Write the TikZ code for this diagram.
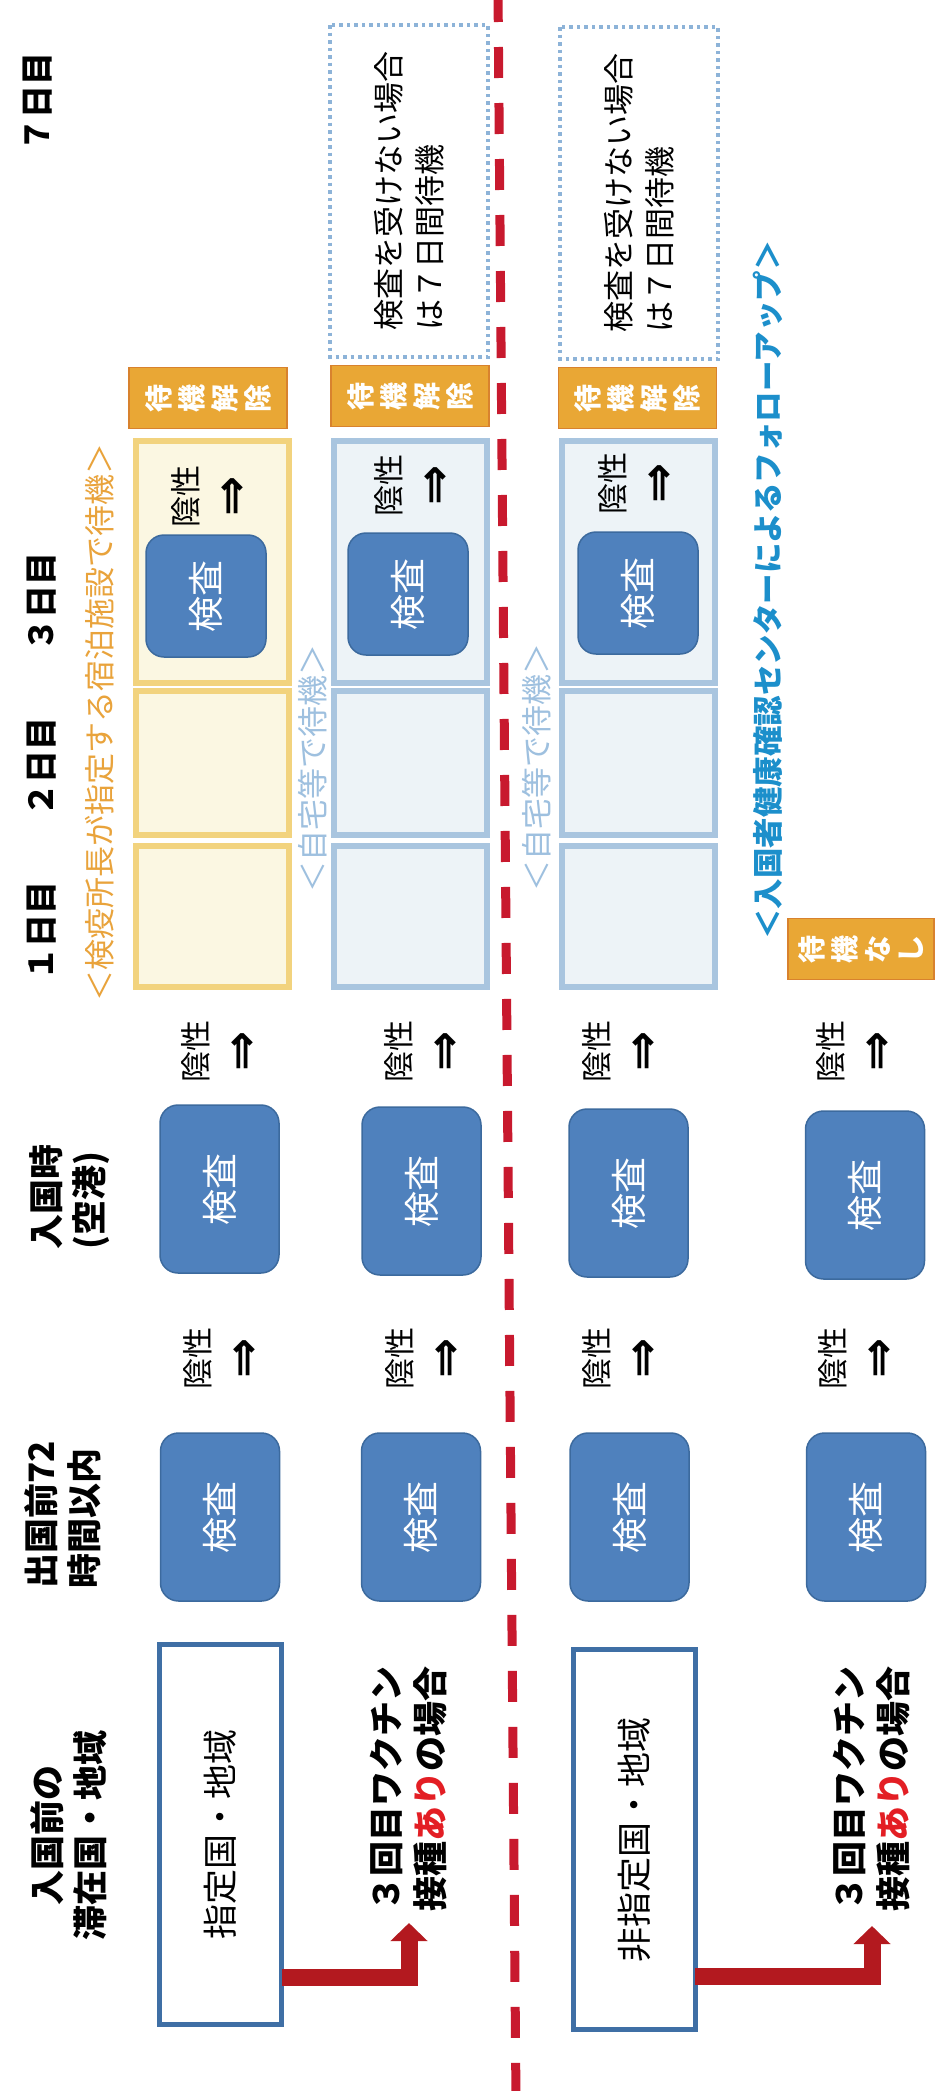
\documentclass[tikz,border=0pt]{standalone}
\usepackage{fontspec}
\setmainfont{Noto Sans CJK JP}
\newfontfamily\symfont{DejaVu Sans}
\usetikzlibrary{arrows.meta}
\definecolor{kblue}{HTML}{4F81BD}
\definecolor{kblueD}{HTML}{3C6A9E}
\definecolor{wblue}{HTML}{3F6FA5}
\definecolor{korange}{HTML}{E9A735}
\definecolor{korangeD}{HTML}{D8822E}
\definecolor{ycellD}{HTML}{F2D37E}
\definecolor{ycellF}{HTML}{FBF7E2}
\definecolor{bcellD}{HTML}{A9C5DF}
\definecolor{bcellF}{HTML}{EDF3F7}
\definecolor{dotblue}{HTML}{8DB3D8}
\definecolor{dashred}{HTML}{C8192E}
\definecolor{arrowred}{HTML}{B3191F}
\definecolor{qorange}{HTML}{E9A33B}
\definecolor{homeblue}{HTML}{9EC0DF}
\definecolor{followblue}{HTML}{1C8FCB}
\definecolor{ariRed}{HTML}{E31E24}
\newcommand\fsz[2]{\fontsize{#1pt}{#2pt}\selectfont}
\newcommand\dblarr{{\symfont\bfseries\fontsize{48pt}{48pt}\selectfont ⇒}}
\begin{document}
\begin{tikzpicture}[x=1pt,y=-1pt,
  every node/.style={inner sep=0pt,outer sep=0pt},
  rot/.style={rotate=90},
  hdr/.style={rot,font=\fsz{35}{43}\bfseries},
  daylbl/.style={rot,font=\fsz{33}{40}\bfseries},
  kensa/.style={rot,draw=kblueD,line width=1.5pt,fill=kblue,rounded corners=18pt,text=white,font=\fsz{36}{40}},
  kbig/.style={kensa,minimum width=168pt,minimum height=119pt},
  ksmall/.style={kensa,minimum width=122pt,minimum height=120pt},
  neg/.style={rot,align=center,font=\fsz{31}{50}},
  release/.style={rot,align=center,fill=korange,draw=korangeD,line width=1.5pt,text=white,font=\fsz{28}{33}\bfseries,minimum width=61pt},
  wbox/.style={rot,draw=wblue,line width=5pt,fill=white,font=\fsz{35}{40},minimum width=380pt,minimum height=122pt},
  dotbox/.style={rot,draw=dotblue,line width=3.5pt,dash pattern=on 3.5pt off 4pt,align=left,font=\fsz{31}{41},minimum width=332pt,minimum height=158pt},
  vacc/.style={rot,align=left,anchor=west,font=\fsz{35}{44}\bfseries},
  ycell/.style={draw=ycellD,fill=ycellF,line width=6pt,minimum width=153pt},
  bcell/.style={draw=bcellD,fill=bcellF,line width=6pt,minimum width=153pt},
  lbl/.style={rot,font=\fsz{31}{36}},
  redarrow/.style={draw=arrowred,line width=17pt,-{Triangle[width=36pt,length=18pt]}},
]
\fill[white] (0,0) rectangle (939,2091);
\path[use as bounding box] (0,0) rectangle (939,2091);

% red dashed divider
\draw[dashred,line width=9pt,dash pattern=on 31pt off 25pt] (498,-9) -- (516,2100);

% day labels
\node[daylbl] (d7) at (38,102) {７日目};
\node[daylbl] (d3) at (42,602) {３日目};
\node[daylbl] (d2) at (42,767) {２日目};
\node[daylbl] (d1) at (42,931) {１日目};

% column headers
\node[hdr,align=left] (hEntry) at (70,1197) {入国時\\(空港)};
\node[hdr,align=left] (hDep) at (63,1515) {出国前72\\時間以内};
\node[hdr,align=center] (hStay) at (69,1835) {入国前の\\滞在国・地域};

% quarantine cells
\node[ycell,minimum height=242pt] (cA3) at (212.5,562) {};
\node[ycell,minimum height=144pt] (cA2) at (212.5,763) {};
\node[ycell,minimum height=141pt] (cA1) at (212.5,916.5) {};
\node[bcell,minimum height=242pt] (cB3) at (410.5,562) {};
\node[bcell,minimum height=144pt] (cB2) at (410.5,763) {};
\node[bcell,minimum height=141pt] (cB1) at (410.5,916.5) {};
\node[bcell,minimum height=242pt] (cC3) at (638.5,562) {};
\node[bcell,minimum height=144pt] (cC2) at (638.5,763) {};
\node[bcell,minimum height=141pt] (cC1) at (638.5,916.5) {};

% labels
\node[lbl,text=qorange] (lQuar) at (100,722) {＜検疫所長が指定する宿泊施設で待機＞};
\node[lbl,text=homeblue] (lHomeB) at (313,768) {＜自宅等で待機＞};
\node[lbl,text=homeblue] (lHomeC) at (537,767) {＜自宅等で待機＞};
\node[rot,font=\fsz{30.5}{36}\bfseries,text=followblue] (lFollow) at (768,590) {＜入国者健康確認センターによるフォローアップ＞};

% release boxes
\node[release,minimum height=158pt] (rA) at (208,398) {待\\機\\解\\除};
\node[release,minimum height=158pt] (rB) at (410,396) {待\\機\\解\\除};
\node[release,minimum height=158pt] (rC) at (637.5,398) {待\\機\\解\\除};
\node[release,minimum height=146pt] (rD) at (861,949) {待\\機\\な\\し};

% dotted boxes
\node[dotbox] (pB) at (409,191) {検査を受けない場合\\は７日間待機};
\node[dotbox] (pC) at (639,193) {検査を受けない場合\\は７日間待機};

% day-3 tests
\node[ksmall] (k3A) at (206,596) {検査};
\node[ksmall] (k3B) at (408,594) {検査};
\node[ksmall] (k3C) at (638,593) {検査};
\node[neg] (n3A) at (209,496) {陰性\\\dblarr};
\node[neg] (n3B) at (412,485) {陰性\\\dblarr};
\node[neg] (n3C) at (636,483) {陰性\\\dblarr};

% negative after entry test
\node[neg] (n2A) at (219,1051) {陰性\\\dblarr};
\node[neg] (n2B) at (422,1051) {陰性\\\dblarr};
\node[neg] (n2C) at (620,1051) {陰性\\\dblarr};
\node[neg] (n2D) at (854,1051) {陰性\\\dblarr};

% entry tests
\node[kbig] (keA) at (219.5,1189) {検査};
\node[kbig] (keB) at (421.5,1191) {検査};
\node[kbig] (keC) at (628.5,1193) {検査};
\node[kbig] (keD) at (865,1195) {検査};

% negative after departure test
\node[neg] (n1A) at (221,1358) {陰性\\\dblarr};
\node[neg] (n1B) at (423,1358) {陰性\\\dblarr};
\node[neg] (n1C) at (620,1358) {陰性\\\dblarr};
\node[neg] (n1D) at (856,1358) {陰性\\\dblarr};

% departure tests
\node[kbig] (kdA) at (220,1517) {検査};
\node[kbig] (kdB) at (421,1517) {検査};
\node[kbig] (kdC) at (629.5,1517) {検査};
\node[kbig] (kdD) at (866,1517) {検査};

% origin boxes
\node[wbox] (wbA) at (220.5,1834.5) {指定国・地域};
\node[wbox] (wbC) at (634,1839.5) {非指定国・地域};

% vaccination notes
\node[vacc] (tB) at (409,1911) {３回目ワクチン\\接種{\color{ariRed}あり}の場合};
\node[vacc] (tD) at (872,1911) {３回目ワクチン\\接種{\color{ariRed}あり}の場合};

% arrows
\draw[redarrow] ([yshift=-142.5pt]wbA.south) -| ([yshift=-12pt]tB.west);
\draw[redarrow] ([yshift=-136.5pt]wbC.south) -| ([yshift=-15pt]tD.west);
\end{tikzpicture}
\end{document}
